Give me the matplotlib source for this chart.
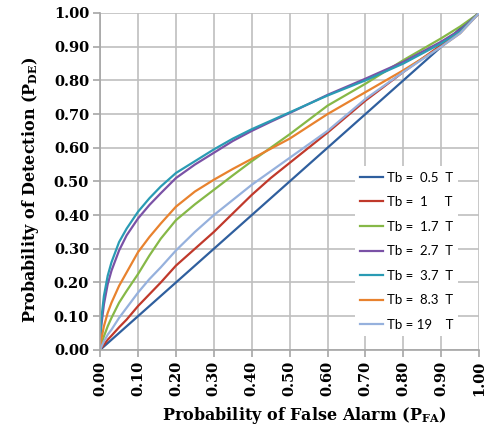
import matplotlib
matplotlib.use('Agg')
import matplotlib.pyplot as plt

# false alarm probability (x) and detection probability per Tb
pfa = [0.0, 0.003, 0.01, 0.02, 0.03, 0.05, 0.07, 0.10, 0.13, 0.16, 0.20, 0.25,
       0.30, 0.35, 0.40, 0.45, 0.50, 0.60, 0.70, 0.80, 0.90, 0.95, 1.00]

pde_05 = [0.0, 0.003, 0.01, 0.02, 0.03, 0.05, 0.07, 0.10, 0.13, 0.16, 0.20, 0.25,
          0.30, 0.35, 0.40, 0.45, 0.50, 0.60, 0.70, 0.80, 0.90, 0.955, 1.00]
pde_1 = [0.0, 0.005, 0.015, 0.03, 0.042, 0.067, 0.09, 0.13, 0.165, 0.20, 0.25, 0.30,
         0.35, 0.405, 0.46, 0.51, 0.555, 0.645, 0.74, 0.825, 0.905, 0.945, 1.00]
pde_17 = [0.0, 0.015, 0.04, 0.07, 0.095, 0.14, 0.175, 0.225, 0.28, 0.33, 0.385, 0.432,
          0.475, 0.518, 0.56, 0.60, 0.64, 0.725, 0.79, 0.86, 0.925, 0.96, 1.00]
pde_27 = [0.0, 0.07, 0.135, 0.195, 0.235, 0.295, 0.34, 0.39, 0.43, 0.465, 0.51, 0.55,
          0.585, 0.62, 0.65, 0.677, 0.703, 0.757, 0.805, 0.855, 0.915, 0.95, 1.00]
pde_37 = [0.0, 0.09, 0.16, 0.22, 0.26, 0.32, 0.36, 0.41, 0.45, 0.485, 0.525, 0.56,
          0.595, 0.627, 0.655, 0.68, 0.705, 0.755, 0.80, 0.85, 0.91, 0.945, 1.00]
pde_83 = [0.0, 0.03, 0.07, 0.11, 0.14, 0.19, 0.23, 0.29, 0.335, 0.375, 0.425, 0.47,
          0.505, 0.537, 0.567, 0.597, 0.627, 0.70, 0.765, 0.83, 0.90, 0.94, 1.00]
pde_19 = [0.0, 0.008, 0.025, 0.045, 0.06, 0.095, 0.125, 0.17, 0.21, 0.245, 0.295, 0.35,
          0.40, 0.445, 0.49, 0.53, 0.57, 0.65, 0.745, 0.825, 0.90, 0.94, 1.00]

labels = ['Tb =  0.5  T', 'Tb =  1     T', 'Tb =  1.7  T', 'Tb =  2.7  T',
          'Tb =  3.7  T', 'Tb =  8.3  T', 'Tb = 19    T']
series = [pde_05, pde_1, pde_17, pde_27, pde_37, pde_83, pde_19]
colors = ['#2F5F9E', '#C0392B', '#86B847', '#7A52A6', '#2A9BB4', '#E8822E', '#96B1DD']

ticks = [0.0, 0.1, 0.2, 0.3, 0.4, 0.5, 0.6, 0.7, 0.8, 0.9, 1.0]
tick_labels = ['0.00', '0.10', '0.20', '0.30', '0.40', '0.50', '0.60', '0.70', '0.80', '0.90', '1.00']

plt.rcParams['mathtext.fontset'] = 'dejavuserif'

fig = plt.figure(figsize=(4.86, 4.33), dpi=100)
ax = fig.add_axes([0.206, 0.192, 0.78, 0.778])

for vals, lab, col in zip(series, labels, colors):
    ax.plot(pfa, vals, color=col, linewidth=1.6, label=lab)

ax.set_xlim(0, 1)
ax.set_ylim(0, 1)
ax.set_xticks(ticks)
ax.set_yticks(ticks)
ax.set_xticklabels(tick_labels, rotation=90, fontsize=10.5, fontweight='bold', family='DejaVu Serif')
ax.set_yticklabels(tick_labels, fontsize=10.5, fontweight='bold', family='DejaVu Serif')
ax.grid(True, color='#BFBFBF', linewidth=1.2)
ax.set_axisbelow(True)
for s in ['top', 'right']:
    ax.spines[s].set_visible(False)
for s in ['left', 'bottom']:
    ax.spines[s].set_color('#A6A6A6')
    ax.spines[s].set_linewidth(1.2)
ax.tick_params(direction='out', length=5, color='#A6A6A6', width=1.2, pad=3)

ax.set_xlabel(r'Probability of False Alarm ($\mathbf{P_{FA}}$)', fontsize=11.5,
              fontweight='bold', family='DejaVu Serif')
ax.set_ylabel(r'Probability of Detection ($\mathbf{P_{DE}}$)', fontsize=11.5,
              fontweight='bold', family='DejaVu Serif')
ax.xaxis.set_label_coords(0.54, -0.165)
ax.yaxis.set_label_coords(-0.155, 0.475)

leg = ax.legend(loc='upper left', bbox_to_anchor=(0.672, 0.545), borderaxespad=0,
                frameon=True, fancybox=False, edgecolor='none', framealpha=1,
                prop={'family': 'Lato', 'size': 9.5}, handlelength=1.7,
                handletextpad=0.3, labelspacing=0.95)

fig.savefig('out.png', dpi=100)
